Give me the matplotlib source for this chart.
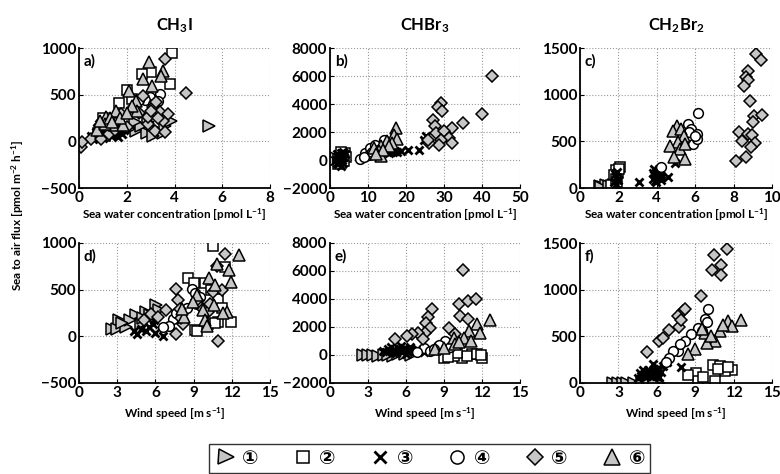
import matplotlib
matplotlib.use("Agg")
import matplotlib.pyplot as plt
from matplotlib.lines import Line2D

plt.rcParams['font.family'] = ['Lato', 'DejaVu Sans', 'Noto Sans CJK SC']
plt.rcParams['mathtext.fontset'] = 'custom'
plt.rcParams['mathtext.rm'] = 'Lato'
plt.rcParams['mathtext.bf'] = 'Lato:bold'
plt.rcParams['mathtext.it'] = 'Lato:italic'

# ---------------- data ----------------
# (a) CH3I flux vs sea water concentration
a1x = [2.4, 2.86, 2.9, 3.35, 3.5, 3.6, 3.85, 2.1, 2.6, 3.1, 1.9, 2.35, 5.45]
a1y = [114, 86, 204, 107, 86, 168, 214, 130, 160, 60, 110, 211, 164]
a2x = [3.9, 3.0, 2.63, 3.8, 2.0, 1.66, 2.2, 1.0, 1.2, 0.9, 1.5, 0.8, 1.3, 1.1, 1.6, 0.95, 1.4]
a2y = [943, 739, 721, 611, 553, 407, 450, 250, 180, 120, 150, 90, 220, 60, 200, 180, 110]
a3x = [0.5, 0.7, 0.8, 0.9, 1.0, 1.1, 1.2, 1.3, 1.4, 1.5, 1.6, 1.7, 1.8, 1.9, 0.6, 1.0,
       1.25, 1.45, 0.85, 1.15, 1.35, 1.55, 1.75, 0.75, 1.05, 1.65]
a3y = [60, 100, 150, 80, 130, 170, 90, 120, 60, 140, 100, 160, 80, 120, 30, 40,
       200, 190, 190, 210, 160, 70, 130, 140, 100, 50]
a4x = [2.96, 3.38, 3.3, 2.75, 3.1, 2.5]
a4y = [471, 507, 430, 440, 400, 440]
a5x = [3.6, 4.5, 2.68, 3.1, 3.4, 3.73, 3.52, 2.9, 3.2, 3.6, 3.24, 2.28, 1.76, 1.27, 0.49,
       0.1, 0.14, 0.92, 2.9, 3.3, 2.0, 1.5, 2.5, 3.0]
a5y = [882, 514, 489, 364, 311, 293, 221, 186, 114, 96, 418, 354, 293, 79, 25,
       -64, -11, 25, 260, 250, 150, 120, 300, 330]
a6x = [2.94, 3.5, 3.45, 2.67, 3.05, 2.1, 2.4, 2.44, 1.55, 1.13, 1.45, 0.77, 1.83, 1.1,
       1.3, 2.2, 0.9, 1.7, 2.0, 1.4]
a6y = [853, 750, 700, 668, 590, 543, 435, 328, 328, 257, 175, 121, 178, 186,
       245, 380, 220, 250, 300, 210]

# (b) CHBr3 flux vs sea water concentration
b1x = [0.5, 0.8, 1.0, 1.2, 1.5, 0.7]
b1y = [0, 50, 100, 20, 150, -100]
b2x = [2.0, 2.5, 3.0, 3.5, 4.0, 2.8, 3.3, 3.8, 2.2, 4.2, 3.0, 3.6]
b2y = [100, 300, 200, 400, 500, -200, 0, 300, -300, 200, 600, -100]
b3x = [1.5, 2.0, 2.5, 3.0, 1.8, 2.6, 3.4, 2.2, 2.8, 3.2, 3.6, 3.9, 2.4, 1.9, 3.0, 3.5,
       17.7, 18.6, 20.4, 23.5, 25.2, 24.8, 15.5, 16.5]
b3y = [0, 200, -100, 100, 400, 300, -200, -300, 500, 0, 200, 400, 100, -200, -400, 600,
       550, 620, 690, 690, 1690, 1450, 500, 600]
b4x = [8.0, 9.3, 10.6, 11.9, 14.2, 10.2, 12.5, 9.0, 11.0]
b4y = [70, 500, 860, 1100, 1450, 380, 700, 200, 600]
b5x = [42.6, 40.1, 35.0, 32.1, 29.2, 28.3, 29.4, 27.0, 27.6, 27.9, 29.9, 31.4, 32.1,
       29.2, 28.8, 26.1, 25.8]
b5y = [6020, 3280, 2640, 2280, 4070, 3780, 3470, 2880, 2450, 1930, 2050, 1570, 1210,
       1450, 1050, 1210, 1450]
b6x = [17.3, 16.8, 17.7, 15.0, 13.3, 12.8, 13.3, 16.4, 15.5, 11.5, 14.0, 12.0]
b6y = [2280, 1810, 1500, 1330, 975, 620, 310, 1210, 975, 860, 700, 450]

# (c) CH2Br2 flux vs sea water concentration
c1x = [1.03, 1.2, 1.35, 1.1, 1.5]
c1y = [25, 14, 30, 10, 20]
c2x = [1.7, 1.8, 1.9, 2.0, 2.09, 1.85, 1.95, 1.75, 2.05, 1.6, 1.9]
c2y = [40, 80, 120, 160, 221, 190, 60, 140, 200, 30, 100]
c3x = [3.06, 4.57, 4.97, 3.8, 3.9, 4.0, 4.1, 4.2, 3.85, 3.95, 4.05, 4.15, 4.0,
       1.75, 1.85, 1.95, 2.0, 1.8, 1.9, 3.9, 4.1, 3.8, 4.2]
c3y = [61, 114, 264, 100, 150, 120, 180, 90, 200, 60, 140, 110, 170,
       60, 120, 170, 90, 150, 40, 80, 200, 160, 130]
c4x = [6.12, 5.63, 5.8, 6.07, 5.9, 4.21, 6.1, 5.7, 6.0]
c4y = [800, 686, 632, 579, 471, 229, 525, 600, 560]
c5x = [9.17, 9.43, 8.73, 8.64, 8.73, 8.55, 8.85, 9.08, 9.49, 9.0, 8.28, 8.73, 8.96,
       9.12, 8.9, 8.1, 8.64, 8.46]
c5y = [1436, 1371, 1257, 1193, 1157, 1096, 936, 775, 786, 704, 596, 579, 571,
       482, 436, 293, 329, 507]
c6x = [5.04, 4.83, 5.27, 5.42, 5.1, 4.71, 5.19, 4.92, 5.45, 5.49]
c6y = [668, 607, 632, 561, 489, 454, 418, 329, 311, 471]

# (d) CH3I flux vs wind speed
d1x = [3.13, 2.6, 2.97, 3.66, 4.46, 5.25, 6.05, 4.85, 4.0, 5.6, 3.4, 6.3, 5.0]
d1y = [177, 79, 79, 105, 224, 260, 332, 134, 180, 230, 140, 280, 200]
d2x = [10.56, 11.5, 8.57, 9.0, 9.9, 10.4, 10.95, 11.9, 10.95, 9.1, 9.28, 10.16, 10.7, 11.2]
d2y = [964, 740, 621, 567, 567, 494, 404, 152, 152, 69, 61, 134, 140, 300]
d3x = [4.59, 4.85, 5.78, 6.58, 5.25, 5.5, 6.0, 4.3, 5.9]
d3y = [25, 79, 134, 7, 61, 100, 40, 60, 180]
d4x = [8.9, 9.1, 7.37, 7.1, 6.63, 7.6, 8.5, 9.5, 9.3]
d4y = [505, 469, 188, 116, 97, 250, 300, 420, 350]
d5x = [11.5, 10.8, 10.95, 7.64, 7.77, 7.9, 6.84, 8.17, 7.64, 5.65, 6.18, 5.12, 9.23,
       9.7, 10.56, 10.16, 8.0, 10.3, 11.2]
d5y = [884, 754, -47, 512, 386, 296, 285, 134, 25, 242, 206, 170, 386,
       296, 470, 260, 200, 350, 500]
d6x = [12.6, 11.75, 11.9, 10.2, 10.7, 9.23, 8.97, 10.6, 9.76, 11.6, 8.22, 8.06, 9.9,
       10.03, 10.8, 11.3]
d6y = [874, 711, 585, 621, 549, 440, 368, 332, 278, 260, 206, 296, 170,
       116, 780, 250]

# (e) CHBr3 flux vs wind speed
e1x = [2.6, 2.97, 3.4, 3.8, 4.3, 5.0, 5.38, 5.9, 6.4, 4.6]
e1y = [0, 0, 0, -70, 0, -70, 50, 50, 0, -30]
e2x = [8.97, 10.4, 12.0, 11.2, 9.76, 10.8, 11.6, 10.0, 9.3, 11.9]
e2y = [-240, -240, -190, 50, -70, -100, 100, 150, -150, 0]
e3x = [4.2, 4.6, 5.0, 5.4, 5.8, 6.2, 6.6, 7.0, 7.4, 4.8, 5.6, 6.4, 5.2, 6.0,
       4.4, 5.1, 5.7, 6.3, 6.9, 4.9, 5.5, 6.1]
e3y = [300, 400, 200, 500, 350, 450, 250, 300, 200, 600, 650, 350, 150, 100,
       200, 350, 250, 550, 400, 300, 450, 300]
e4x = [9.1, 7.4, 7.9, 8.6, 9.5, 6.9, 8.2]
e4y = [1010, 530, 290, 700, 600, 200, 400]
e5x = [10.5, 10.16, 10.88, 11.5, 10.3, 10.9, 8.04, 7.77, 7.6, 7.9, 7.5, 6.98, 6.45,
       6.05, 5.12, 7.37, 9.36, 9.9]
e5y = [6080, 3640, 3830, 4000, 2800, 2560, 3280, 2730, 2320, 1960, 1600, 1600, 1480,
       1360, 1120, 1120, 1910, 1480]
e6x = [12.6, 11.6, 11.83, 10.95, 10.56, 9.76, 9.9, 8.3, 8.97, 11.1, 10.2]
e6y = [2490, 2200, 1600, 1720, 1240, 1240, 770, 410, 530, 1010, 900]

# (f) CH2Br2 flux vs wind speed
f1x = [2.6, 2.97, 3.34, 3.7, 4.19, 4.85, 5.4, 6.18, 5.8]
f1y = [0, 0, 0, 0, 0, 0, 0, 0, 0]
f2x = [9.1, 9.23, 10.4, 10.95, 11.9, 11.35, 10.56, 8.43, 10.8, 9.6, 11.6]
f2y = [108, 18, 198, 180, 144, 126, 18, 90, 150, 60, 170]
f3x = [7.9, 4.5, 4.8, 5.0, 5.2, 5.4, 5.6, 5.8, 6.0, 6.2, 6.5, 5.3, 5.7,
       4.7, 4.9, 5.1, 5.5, 5.9, 6.1, 6.3, 6.8]
f3y = [169, 50, 80, 100, 70, 120, 90, 150, 110, 60, 180, 140, 200,
       110, 140, 60, 100, 70, 160, 120, 230]
f4x = [10.03, 9.76, 9.23, 8.7, 8.17, 7.64, 7.24, 6.98, 7.85, 9.9, 9.5, 6.7]
f4y = [788, 684, 587, 522, 450, 342, 342, 270, 414, 650, 560, 230]
f5x = [11.49, 10.5, 11.0, 10.3, 11.03, 9.44, 8.04, 7.64, 7.77, 6.98, 6.18, 5.2, 8.2, 7.9, 6.5]
f5y = [1440, 1368, 1260, 1210, 1152, 936, 774, 720, 601, 565, 450, 331, 790, 680, 480]
f6x = [12.6, 11.6, 11.9, 10.95, 10.56, 9.9, 9.76, 8.97, 8.4, 11.2, 10.2, 9.5]
f6y = [673, 659, 612, 558, 450, 432, 540, 360, 306, 620, 500, 580]

compounds = ['CH$_\\mathbf{3}$I', 'CHBr$_\\mathbf{3}$', 'CH$_\\mathbf{2}$Br$_\\mathbf{2}$']
panel_letters = ['a)', 'b)', 'c)', 'd)', 'e)', 'f)']
legend_labels = ['\u2460', '\u2461', '\u2462', '\u2463', '\u2464', '\u2465']

panels = [
    [(a1x, a1y), (a2x, a2y), (a3x, a3y), (a4x, a4y), (a5x, a5y), (a6x, a6y)],
    [(b1x, b1y), (b2x, b2y), (b3x, b3y), (b4x, b4y), (b5x, b5y), (b6x, b6y)],
    [(c1x, c1y), (c2x, c2y), (c3x, c3y), (c4x, c4y), (c5x, c5y), (c6x, c6y)],
    [(d1x, d1y), (d2x, d2y), (d3x, d3y), (d4x, d4y), (d5x, d5y), (d6x, d6y)],
    [(e1x, e1y), (e2x, e2y), (e3x, e3y), (e4x, e4y), (e5x, e5y), (e6x, e6y)],
    [(f1x, f1y), (f2x, f2y), (f3x, f3y), (f4x, f4y), (f5x, f5y), (f6x, f6y)],
]

xlims = [(0, 8), (0, 50), (0, 10), (0, 15), (0, 15), (0, 15)]
xticks = [range(0, 9, 2), range(0, 51, 10), range(0, 11, 2),
          range(0, 16, 3), range(0, 16, 3), range(0, 16, 3)]
ylims = [(-500, 1000), (-2000, 8000), (0, 1500), (-500, 1000), (-2000, 8000), (0, 1500)]
yticks = [range(-500, 1001, 500), range(-2000, 8001, 2000), range(0, 1501, 500),
          range(-500, 1001, 500), range(-2000, 8001, 2000), range(0, 1501, 500)]

GRAY = '#c6c6c6'
EW = 1.1
styles = [
    dict(marker='>', markersize=8, markerfacecolor=GRAY, markeredgecolor='black', markeredgewidth=EW),
    dict(marker='s', markersize=6.5, markerfacecolor='white', markeredgecolor='black', markeredgewidth=EW),
    dict(marker='x', markersize=6, color='black', markeredgewidth=2.0),
    dict(marker='o', markersize=7, markerfacecolor='white', markeredgecolor='black', markeredgewidth=EW),
    dict(marker='D', markersize=5.8, markerfacecolor=GRAY, markeredgecolor='black', markeredgewidth=EW),
    dict(marker='^', markersize=8.5, markerfacecolor=GRAY, markeredgecolor='black', markeredgewidth=EW),
]

fig = plt.figure(figsize=(7.8, 4.74), dpi=100)
W, H = 780.0, 474.0
lefts = [79, 330, 580]
widths = [191, 190, 192]
tops = [48, 243]
ah = 140

for i in range(6):
    r, c = divmod(i, 3)
    ax = fig.add_axes([lefts[c] / W, 1 - (tops[r] + ah) / H, widths[c] / W, ah / H])
    for (xs, ys), st in zip(panels[i], styles):
        ax.plot(xs, ys, linestyle='none', **st)
    ax.set_xlim(*xlims[i])
    ax.set_ylim(*ylims[i])
    ax.set_xticks(list(xticks[i]))
    ax.set_yticks(list(yticks[i]))
    ax.grid(True, linestyle=':', color='#9a9a9a', linewidth=0.8)
    ax.set_axisbelow(True)
    for s in ('top', 'right'):
        ax.spines[s].set_visible(False)
    for s in ('left', 'bottom'):
        ax.spines[s].set_linewidth(1.3)
    ax.tick_params(direction='in', length=3, width=0.8, labelsize=11, pad=2)
    for lab in ax.get_xticklabels() + ax.get_yticklabels():
        lab.set_fontweight('bold')
    ax.text(0.025, 0.955, panel_letters[i], transform=ax.transAxes, va='top', ha='left',
            fontsize=11, fontweight='bold')
    if r == 0:
        ax.set_title(compounds[c], fontsize=12, fontweight='bold', pad=13)
        ax.set_xlabel('Sea water concentration [pmol L$^{\\mathbf{-1}}$]', fontsize=8.5,
                      fontweight='bold', labelpad=1)
    else:
        ax.set_xlabel('Wind speed [m s$^{\\mathbf{-1}}$]', fontsize=8.5,
                      fontweight='bold', labelpad=4)

fig.text(18 / W, 1 - 215 / H, 'Sea to air flux [pmol m$^{\\mathbf{-2}}$ h$^{\\mathbf{-1}}$]',
         rotation=90, ha='center', va='center', fontsize=8.5, fontweight='bold')

handles = []
for st in styles:
    st2 = dict(st)
    st2['markersize'] = st['markersize'] * 1.35
    handles.append(Line2D([], [], linestyle='none', **st2))

leg = fig.legend(handles, legend_labels, loc='lower left',
                 bbox_to_anchor=(209 / W, 1 - 473 / H, 441 / W, 30 / H),
                 mode='expand', ncol=6, frameon=True, fancybox=False,
                 edgecolor='black', borderaxespad=0, handlelength=1.2,
                 handletextpad=0.25, borderpad=0.25,
                 prop={'family': ['DejaVu Sans'], 'size': 14, 'weight': 'bold'})
leg.get_frame().set_linewidth(1.0)

fig.savefig('out.png', dpi=100)
